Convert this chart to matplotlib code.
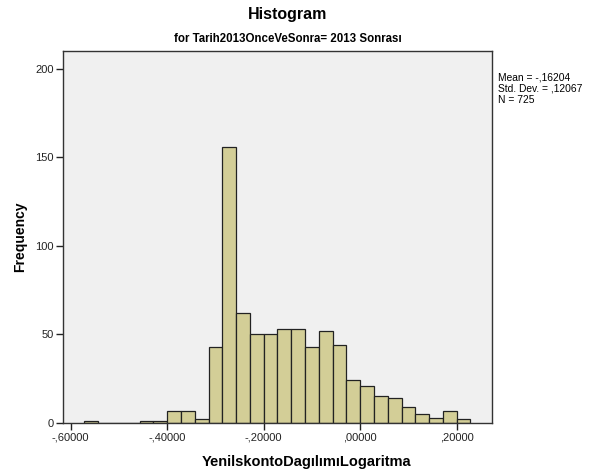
import numpy as np
import matplotlib
matplotlib.use("Agg")
import matplotlib.pyplot as plt

# histogram bins (SPSS style: width 0.4/14)
bin_width = 0.4 / 14
bin_first = -0.4 - 6 * bin_width
counts = [1, 0, 0, 0, 1, 1, 7, 7, 2, 43, 156, 62, 50, 50, 53, 53, 43, 52, 44,
          24, 21, 15, 14, 9, 5, 3, 7, 2]
xticks = [-0.6, -0.4, -0.2, 0.0, 0.2]
xtick_labels = ["-,60000", "-,40000", "-,20000", ",00000", ",20000"]
yticks = [0, 50, 100, 150, 200]
stats_text = "Mean = -,16204\nStd. Dev. = ,12067\nN = 725"

plt.rcParams['font.family'] = ['Liberation Sans', 'DejaVu Sans']

fig = plt.figure(figsize=(5.92, 4.72), dpi=100)
ax = fig.add_axes([63.3 / 592, 1 - 423 / 472, (492.3 - 63.3) / 592, (423 - 51) / 472])
ax.set_facecolor("#F0F0F0")

lefts = bin_first + np.arange(len(counts)) * bin_width
ax.bar(lefts, counts, width=bin_width, align="edge", color="#D3CE97",
       edgecolor="#222222", linewidth=0.9)

ax.set_xlim(-0.6153, 0.2738)
ax.set_ylim(0, 210)
ax.set_xticks(xticks)
ax.set_xticklabels(xtick_labels)
ax.set_yticks(yticks)
ax.tick_params(direction="out", length=5, width=1, labelsize=8, pad=2,
               colors="#222222")
for s in ax.spines.values():
    s.set_color("#333333")
    s.set_linewidth(1)

ax.set_ylabel("Frequency", fontsize=10, fontweight="bold", labelpad=6)
fig.text(307 / 592, 1 - 466 / 472, "YenilskontoDagılımıLogaritma", ha="center",
         va="baseline", fontsize=10.5, fontweight="bold")
fig.text(288 / 592, 1 - 18.5 / 472, "Histogram", ha="center", va="baseline",
         fontsize=11.5, fontweight="bold")
fig.text(288 / 592, 1 - 42.5 / 472, "for Tarih2013OnceVeSonra= 2013 Sonrası",
         ha="center", va="baseline", fontsize=8.3, fontweight="bold")
fig.text(498 / 592, 1 - 72.5 / 472, stats_text, ha="left", va="top", fontsize=7.4,
         linespacing=1.15)

fig.savefig("out.png", dpi=100)
